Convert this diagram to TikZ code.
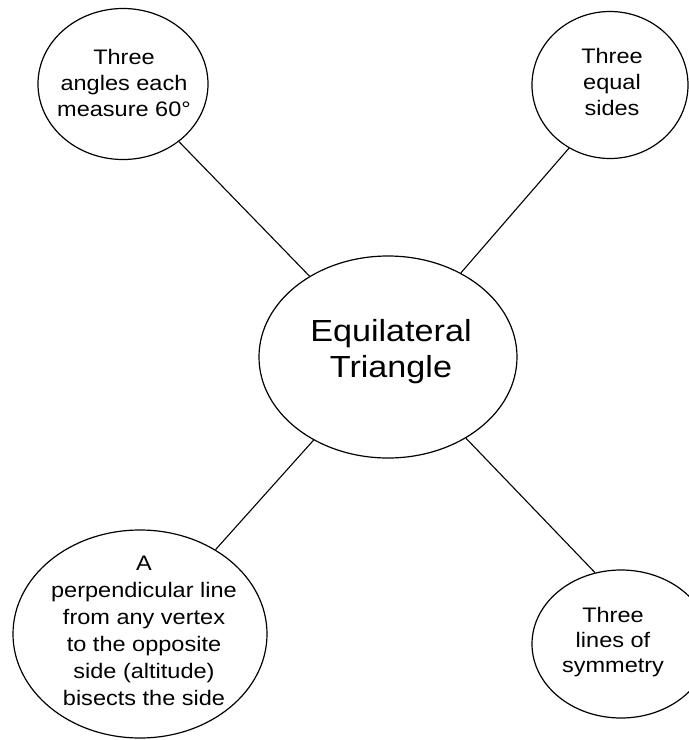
\documentclass[tikz,border=0pt]{standalone}
\usepackage{fontspec}
\setmainfont{Liberation Sans}[FakeStretch=1.12]
\usetikzlibrary{shapes.geometric,positioning}

\tikzset{
  bubble/.style={draw, ellipse, line width=1.2pt, inner sep=0pt},
  note/.style={align=center, inner sep=0pt, font=\fontsize{21}{26}\selectfont},
  link/.style={line width=1.1pt},
}

\begin{document}
\begin{tikzpicture}[x=1pt,y=-1pt]
    \useasboundingbox (0,0) rectangle (689,740);

    % Centre
    \node[bubble, minimum width=258, minimum height=202] (tri) at (388,357) {};
    \node[note, font=\fontsize{30.5}{36}\selectfont] (triText) at (391,352) {Equilateral\\Triangle};

    % Properties
    \node[bubble, minimum width=170, minimum height=151] (angles) at (123,84) {};
    \node[note] (anglesText) at (124,83) {Three\\angles each\\measure 60°};

    \node[bubble, minimum width=156, minimum height=147] (sides) at (610,85) {};
    \node[note] (sidesText) at (612,82) {Three\\equal\\sides};

    \node[bubble, minimum width=254, minimum height=208] (alt) at (140,634) {};
    \node[note, font=\fontsize{21}{27}\selectfont] (altText) at (144,631) {A\\perpendicular line\\from any vertex\\to the opposite\\side (altitude)\\bisects the side};

    \node[bubble, minimum width=178, minimum height=148] (sym) at (621,644) {};
    \node[note, font=\fontsize{21}{25}\selectfont] (symText) at (613,642) {Three\\lines of\\symmetry};

    % Links
    \draw[link] (angles) -- (tri);
    \draw[link] (tri) -- (sides.237);
    \draw[link] (tri) -- (alt);
    \draw[link] (tri) -- (sym.110);
\end{tikzpicture}
\end{document}
